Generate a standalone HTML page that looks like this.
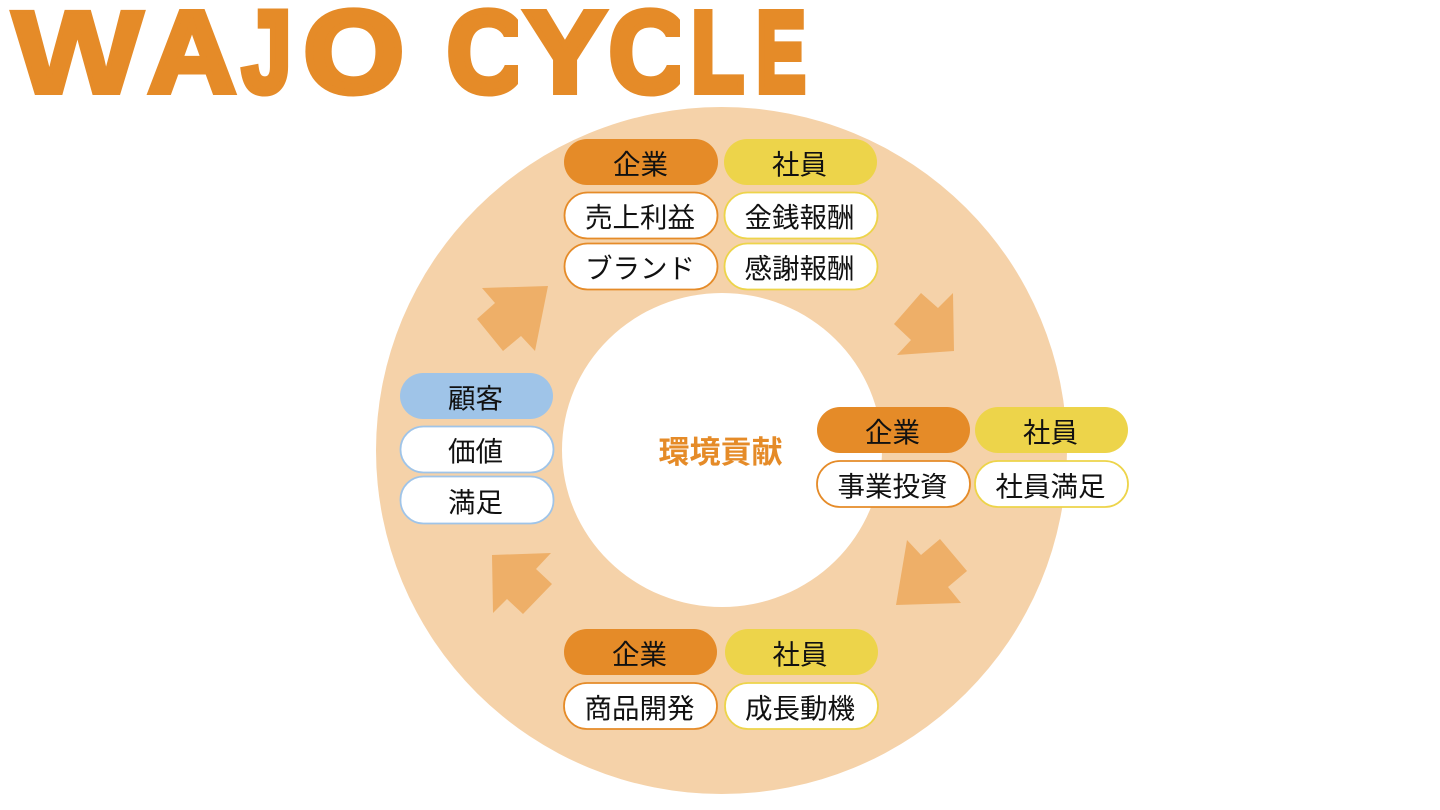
<!DOCTYPE html>
<html lang="ja">
<head>
<meta charset="utf-8">
<title>WAJO CYCLE</title>
<style>
html,body{margin:0;padding:0;width:1440px;height:810px;overflow:hidden;background:#fff}
svg{display:block}
.t{font-family:"Liberation Sans","Noto Sans CJK JP",sans-serif;font-size:27.5px;fill:#111;text-anchor:middle}
.ttl{font-family:"Liberation Sans",sans-serif;font-weight:700;font-size:116px;fill:#e58b28;stroke:#e58b28;stroke-width:6;stroke-linejoin:miter}
.o{fill:#fff;stroke:#e58b28;stroke-width:1.8}
.y{fill:#fff;stroke:#edd44a;stroke-width:1.8}
.b{fill:#fff;stroke:#9fc4e8;stroke-width:1.8}
</style>
</head>
<body>
<svg width="1440" height="810" viewBox="0 0 1440 810" xmlns="http://www.w3.org/2000/svg">
<defs>
<clipPath id="c1"><rect x="440" y="0" width="78" height="105"/></clipPath>
<clipPath id="c2"><rect x="602" y="0" width="78" height="105"/></clipPath>
</defs>
<rect width="1440" height="810" fill="#fff"/>

<g class="ttl">
<text x="12" y="93" textLength="131" lengthAdjust="spacingAndGlyphs" style="font-size:118px;stroke-width:4">W</text>
<text x="148" y="92" textLength="88" lengthAdjust="spacingAndGlyphs">A</text>
<text x="242" y="92" textLength="49.5" lengthAdjust="spacingAndGlyphs" style="stroke-width:7">J</text>
<text x="304" y="92" textLength="99.5" lengthAdjust="spacingAndGlyphs" style="stroke-width:7">O</text>
<g clip-path="url(#c1)"><text x="447" y="92" textLength="78" lengthAdjust="spacingAndGlyphs" style="stroke-width:7">C</text></g>
<text x="524" y="92" textLength="82" lengthAdjust="spacingAndGlyphs">Y</text>
<g clip-path="url(#c2)"><text x="609" y="92" textLength="78" lengthAdjust="spacingAndGlyphs" style="stroke-width:7">C</text></g>
<text x="691.5" y="91" textLength="52" lengthAdjust="spacingAndGlyphs" style="font-size:113px;stroke-width:8">L</text>
<text x="756.5" y="91" textLength="49" lengthAdjust="spacingAndGlyphs" style="font-size:113px;stroke-width:8">E</text>
</g>
<rect x="497" y="37" width="22" height="28" fill="#fff"/>
<rect x="659" y="37" width="22" height="28" fill="#fff"/>

<ellipse cx="721.5" cy="450.5" rx="345.5" ry="343.5" fill="#f5d2a9"/>
<ellipse cx="722" cy="450" rx="160" ry="157" fill="#fff"/>

<g fill="#eeaf68">
<polygon points="482,288 548,286 535,351 521,336 503,351 477,319 495,303"/>
<polygon points="953,293 954,351 897,355 911,340 894,324 921,293 938,308"/>
<polygon points="907,540 921,555 940,539 967,571 948,587 961,603 896,605"/>
<polygon points="492,555 551,553 536,569 552,584 523,614 507,599 493,613"/>
</g>

<!-- top -->
<rect x="564" y="139" width="154" height="46" rx="23" fill="#e58b28"/>
<rect x="724" y="139" width="153" height="46" rx="23" fill="#edd44a"/>
<rect x="564.5" y="192.5" width="153" height="46" rx="23" class="o"/>
<rect x="724.5" y="192.5" width="153" height="46" rx="23" class="y"/>
<rect x="564.5" y="243.5" width="153" height="46" rx="23" class="o"/>
<rect x="724.5" y="243.5" width="153" height="46" rx="23" class="y"/>
<text class="t" x="640.5" y="174">企業</text>
<text class="t" x="799.5" y="174">社員</text>
<text class="t" x="640" y="227">売上利益</text>
<text class="t" x="799.5" y="227">金銭報酬</text>
<text class="t" x="640" y="278">ブランド</text>
<text class="t" x="799.5" y="278">感謝報酬</text>

<!-- left -->
<rect x="400" y="373" width="153" height="46" rx="23" fill="#9fc4e8"/>
<rect x="400.5" y="426.5" width="153" height="46" rx="23" class="b"/>
<rect x="400.5" y="476.5" width="153" height="47" rx="23" class="b"/>
<text class="t" x="475.5" y="408">顧客</text>
<text class="t" x="475.5" y="461">価値</text>
<text class="t" x="475.5" y="512">満足</text>

<!-- right -->
<rect x="817" y="407" width="153" height="46" rx="23" fill="#e58b28"/>
<rect x="975" y="407" width="153" height="46" rx="23" fill="#edd44a"/>
<rect x="817" y="461" width="153" height="46" rx="23" class="o"/>
<rect x="975" y="461" width="153" height="46" rx="23" class="y"/>
<text class="t" x="892.5" y="442">企業</text>
<text class="t" x="1050.5" y="442">社員</text>
<text class="t" x="892.5" y="496">事業投資</text>
<text class="t" x="1050.5" y="496">社員満足</text>

<!-- bottom -->
<rect x="564" y="629" width="153" height="46" rx="23" fill="#e58b28"/>
<rect x="725" y="629" width="153" height="46" rx="23" fill="#edd44a"/>
<rect x="564" y="683" width="153" height="46" rx="23" class="o"/>
<rect x="725" y="683" width="153" height="46" rx="23" class="y"/>
<text class="t" x="639.5" y="664">企業</text>
<text class="t" x="800" y="664">社員</text>
<text class="t" x="639.5" y="718">商品開発</text>
<text class="t" x="800" y="718">成長動機</text>

<!-- center -->
<text x="720.5" y="463" text-anchor="middle" style="font-family:'Liberation Sans','Noto Sans CJK JP',sans-serif;font-size:31px;font-weight:700;fill:#e58b28">環境貢献</text>
</svg>
</body>
</html>
